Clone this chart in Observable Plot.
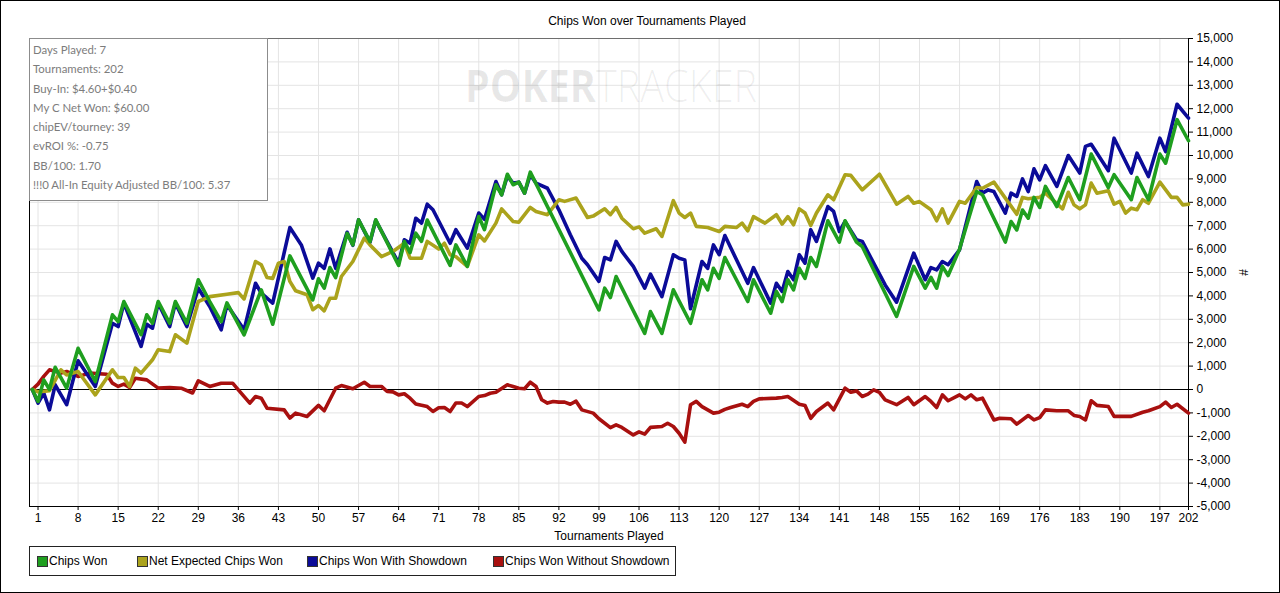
<!DOCTYPE html>
<html><head><meta charset="utf-8">
<script src="https://cdn.jsdelivr.net/npm/d3@7"></script>
<script src="https://cdn.jsdelivr.net/npm/@observablehq/plot@0.6"></script>
<style>
html,body{margin:0;padding:0;background:#fff;}
#fig{position:relative;width:1280px;height:593px;overflow:hidden;font-family:"Liberation Sans",Arial,sans-serif;background:#fff;}
#border{position:absolute;left:0;top:0;width:1280px;height:593px;box-sizing:border-box;border:1px solid #000;pointer-events:none;}
#title{position:absolute;left:647px;top:14px;transform:translateX(-50%);font-size:12px;color:#000;white-space:nowrap;line-height:14px;}
#chart{position:absolute;left:0;top:1px;}
#wm{position:absolute;left:465px;top:62px;font-family:"Open Sans",sans-serif;font-size:45px;line-height:45px;white-space:nowrap;transform-origin:left top;transform:scaleX(0.88);pointer-events:none;}
#wm .b{font-weight:700;color:rgba(0,0,0,0.09);}
#wm .l{font-weight:300;color:rgba(0,0,0,0.065);}
#info{position:absolute;left:29px;top:38px;width:239px;height:163px;box-sizing:border-box;border:1.5px solid #8c8c8c;background:#fff;padding:1px 0 0 3px;font-family:Lato,"Open Sans",sans-serif;font-size:11.4px;color:#7c7c7c;line-height:19.3px;}
#legend{position:absolute;left:29px;top:546px;width:647px;height:30px;box-sizing:border-box;border:1px solid #222;font-size:12px;color:#000;}
#legend .sw{position:absolute;top:9px;width:9px;height:9px;border:1px solid #333;}
#legend .tx{position:absolute;top:7px;line-height:14px;white-space:nowrap;}
</style></head>
<body>
<div id="fig">
  <div id="chart"></div>
  <div id="wm"><span class="b">POKER</span><span class="l">TRACKER</span></div>
  <div id="title"></div>
  <div id="info"></div>
  <div id="legend"></div>
  <div id="border"></div>
</div>
<script>
// ---------------- data (tournament, chips) ----------------
const chipsWon = [[0,0],[1,-510],[2,410],[3,0],[4,950],[6,55],[8,1760],[11,340],[14,3190],[15,2900],[16,3760],[19,2340],[20,3190],[21,2830],[22,3760],[24,2830],[25,3760],[27,2830],[29,4690],[31,3760],[33,2900],[34,3700],[37,2330],[40,4260],[42,2790],[45,5710],[49,3830],[50,4730],[51,4330],[52,5210],[53,4780],[55,6670],[56,6180],[57,7250],[59,6320],[60,7250],[64,5300],[65,6320],[66,5850],[67,6680],[68,6330],[69,7240],[73,5300],[74,6180],[76,5260],[78,7390],[79,6830],[81,8750],[82,8320],[83,9200],[84,8750],[85,8860],[86,8390],[87,9290],[99,3400],[100,4330],[101,3930],[102,4830],[107,2400],[108,3330],[110,2400],[112,4260],[115,2830],[117,4690],[118,4260],[119,5180],[120,4750],[121,5640],[125,3760],[126,4690],[129,3260],[130,4190],[131,3760],[132,4690],[133,4260],[134,5180],[135,4750],[136,5640],[137,5260],[139,7210],[141,6300],[142,7210],[144,6300],[145,6110],[151,3120],[154,5260],[156,4330],[157,4790],[158,4330],[159,5260],[160,4870],[162,6000],[165,8460],[166,8320],[170,6300],[171,7180],[172,6820],[173,7670],[174,7320],[175,8210],[176,7780],[177,8680],[179,7820],[181,9060],[183,8110],[185,10060],[188,8630],[189,9180],[192,8110],[193,9060],[195,8110],[197,10060],[198,9670],[200,11530],[202,10630]];

const netExpected = [[0,0],[1,-100],[3,-50],[5,840],[6,620],[8,770],[11,-230],[14,840],[15,510],[16,510],[17,130],[18,910],[19,700],[21,1270],[22,1700],[24,1620],[25,2340],[27,1980],[29,3760],[31,3970],[34,4070],[36,4140],[37,3870],[39,5470],[40,5330],[41,4790],[42,4750],[43,5400],[44,5470],[45,4620],[46,4220],[48,4050],[49,3410],[50,3590],[51,3360],[52,3900],[53,3900],[54,4830],[56,5470],[57,5970],[58,6470],[59,6180],[61,5680],[63,5900],[65,6250],[66,5610],[68,5610],[69,6330],[71,6000],[72,6250],[73,5760],[74,5680],[76,5260],[78,6610],[79,6350],[81,7110],[82,7720],[84,7180],[85,7150],[87,7780],[88,7610],[90,7470],[92,8110],[93,8040],[95,8180],[97,7350],[98,7410],[100,7720],[101,7470],[102,7780],[103,7320],[105,6870],[106,6950],[107,6680],[109,6870],[110,6540],[112,8070],[113,7540],[114,7350],[115,7540],[116,6970],[118,6920],[120,6750],[121,6970],[123,6920],[124,7110],[125,6780],[126,7390],[128,7110],[130,7470],[131,7070],[132,7390],[133,7040],[134,7720],[135,7540],[136,7010],[137,7540],[139,8320],[140,8110],[142,9180],[143,9150],[145,8530],[148,9200],[151,7920],[153,8250],[154,7960],[155,8030],[157,7680],[158,7210],[159,7720],[160,7110],[162,8040],[163,7960],[165,8630],[166,8600],[168,8860],[170,8180],[172,7490],[173,8210],[174,8150],[176,8210],[177,8390],[180,7720],[181,8430],[182,7890],[183,7720],[184,7890],[185,8820],[186,8390],[188,8490],[189,7920],[190,8040],[191,7540],[192,7750],[193,7680],[194,8110],[195,7960],[197,8860],[199,8210],[200,8210],[201,7890],[202,7920]];

const withShowdown = [[0,0],[1,-580],[2,-150],[3,-870],[4,200],[6,-650],[8,1230],[11,130],[14,2830],[15,2690],[16,3690],[19,1840],[20,2790],[21,2620],[22,3690],[24,2690],[25,3690],[27,2690],[29,4330],[31,3550],[33,2550],[34,3620],[37,2550],[39,4540],[40,4120],[42,3690],[45,6920],[47,6180],[49,4760],[50,5400],[51,5180],[52,6010],[53,5180],[55,6720],[56,6160],[57,7250],[59,6290],[60,7230],[64,5400],[65,6400],[66,6250],[67,7320],[68,7110],[69,7920],[70,7680],[73,6250],[74,6830],[76,6040],[78,7540],[79,7270],[81,8890],[82,8320],[83,9120],[84,8820],[85,8860],[86,8390],[87,9180],[88,8820],[90,8600],[92,7680],[94,6610],[96,5610],[97,5330],[99,4620],[100,5640],[101,5540],[102,6330],[103,5900],[105,5260],[107,4330],[108,4930],[110,3970],[112,5760],[113,5610],[114,5540],[115,3450],[117,5470],[118,5180],[119,6180],[120,5760],[121,6580],[125,4540],[126,5210],[129,3690],[130,4540],[131,4190],[132,5040],[133,4690],[134,5760],[135,5400],[136,6830],[137,6330],[139,7820],[140,7610],[141,6750],[142,7180],[144,6400],[145,6330],[149,4470],[151,3730],[154,5830],[156,4690],[157,5210],[158,5110],[159,5470],[160,5330],[162,5970],[165,8890],[166,8390],[167,8530],[168,8460],[170,7540],[171,8390],[172,8250],[173,9000],[174,8460],[175,9430],[176,8960],[177,9570],[179,8680],[181,10000],[183,9250],[184,10390],[185,10480],[188,9350],[189,10740],[192,9250],[193,10100],[195,9100],[197,10740],[198,10170],[200,12190],[202,11600]];

const withoutShowdown = [[0,0],[1,230],[2,560],[3,840],[5,700],[6,770],[8,560],[10,700],[13,650],[14,270],[15,130],[16,230],[17,85],[18,480],[20,410],[22,60],[24,85],[26,55],[28,-150],[29,370],[31,130],[33,270],[35,270],[36,-15],[38,-580],[39,-300],[40,-370],[41,-800],[44,-870],[45,-1220],[46,-1010],[48,-1150],[50,-680],[51,-910],[53,55],[54,170],[56,30],[58,310],[59,130],[61,130],[62,-85],[63,-100],[64,-230],[65,-180],[66,-370],[67,-620],[69,-730],[70,-940],[71,-780],[72,-770],[73,-940],[74,-580],[75,-580],[76,-730],[78,-300],[79,-260],[80,-160],[81,-120],[83,200],[84,130],[85,55],[86,30],[87,310],[88,130],[89,-440],[90,-580],[91,-510],[92,-540],[93,-540],[94,-630],[95,-500],[96,-870],[98,-1010],[99,-1250],[101,-1630],[102,-1510],[103,-1620],[105,-1940],[106,-1810],[107,-1910],[108,-1620],[110,-1580],[111,-1440],[112,-1580],[113,-1870],[114,-2250],[115,-650],[116,-510],[117,-730],[119,-1010],[120,-970],[121,-850],[122,-770],[124,-630],[125,-730],[126,-510],[127,-400],[130,-370],[131,-340],[132,-300],[134,-630],[135,-680],[136,-1230],[137,-940],[139,-580],[140,-870],[142,55],[143,-120],[144,-60],[145,-300],[146,-200],[147,-15],[148,-120],[149,-440],[151,-650],[153,-340],[154,-650],[156,-300],[157,-510],[158,-770],[159,-230],[160,-480],[162,-230],[163,-400],[164,-230],[165,-440],[166,-370],[168,-1300],[169,-1230],[171,-1250],[172,-1480],[174,-1110],[175,-1300],[176,-1200],[177,-870],[179,-910],[181,-910],[182,-1110],[183,-1150],[184,-1300],[185,-480],[186,-680],[188,-730],[189,-1150],[192,-1150],[194,-970],[195,-910],[197,-730],[198,-540],[199,-770],[200,-630],[202,-1010]];

const xTicks = [1,8,15,22,29,36,43,50,57,64,71,78,85,92,99,106,113,120,127,134,141,148,155,162,169,176,183,190,197,202];
const yTicks = [-5000,-4000,-3000,-2000,-1000,0,1000,2000,3000,4000,5000,6000,7000,8000,9000,10000,11000,12000,13000,14000,15000];

const seriesNames = ["Chips Won","Net Expected Chips Won","Chips Won With Showdown","Chips Won Without Showdown"];
const seriesColors = ["#1f9f1f","#aba31c","#0b0b98","#a8100f"];

const titleText = "Chips Won over Tournaments Played";
const infoLines = ["Days Played: 7","Tournaments: 202","Buy-In: $4.60+$0.40","My C Net Won: $60.00","chipEV/tourney: 39","evROI %: -0.75","BB/100: 1.70","!!!0 All-In Equity Adjusted BB/100: 5.37"];

// ---------------- chart ----------------
const xDomain = [-0.49, 202];
const lineOpts = (c) => ({x: d => d[0], y: d => d[1], stroke: c, strokeWidth: 3.6, strokeLinejoin: "round", strokeLinecap: "round"});

const chart = Plot.plot({
  width: 1280, height: 545,
  marginLeft: 29, marginRight: 92, marginTop: 37, marginBottom: 40,
  style: {fontFamily: "'Liberation Sans', Arial, sans-serif", fontSize: "12px", color: "#000", background: "transparent", overflow: "visible"},
  x: {domain: xDomain, ticks: xTicks, tickFormat: d => String(d), tickSize: 4, tickPadding: 3,
      label: "Tournaments Played", labelAnchor: "center", labelArrow: "none", labelOffset: 33},
  y: {domain: [-5000, 15000], ticks: yTicks, tickFormat: d => d.toLocaleString("en-US"), axis: "right",
      tickSize: 4, tickPadding: 4, label: "#", labelAnchor: "center", labelArrow: "none", labelOffset: 59},
  marks: [
    Plot.gridX(xTicks, {stroke: "#e4e4e4", strokeOpacity: 1}),
    Plot.gridY(yTicks, {stroke: "#e4e4e4", strokeOpacity: 1}),
    Plot.ruleY([15000], {stroke: "#6e6e6e", strokeWidth: 1.2}),
    Plot.ruleX(xDomain, {stroke: "#000"}),
    Plot.ruleY([-5000], {stroke: "#000"}),
    Plot.ruleY([0], {stroke: "#000"}),
    Plot.line(withoutShowdown, lineOpts(seriesColors[3])),
    Plot.line(withShowdown, lineOpts(seriesColors[2])),
    Plot.line(netExpected, lineOpts(seriesColors[1])),
    Plot.line(chipsWon, lineOpts(seriesColors[0]))
  ]
});
document.getElementById("chart").appendChild(chart);

document.getElementById("title").textContent = titleText;
document.getElementById("info").innerHTML = infoLines.map(s => `<div>${s}</div>`).join("");

const legendPos = [[36,48],[136,148],[306,318],[492,504]];
document.getElementById("legend").innerHTML = seriesNames.map((n, i) =>
  `<div class="sw" style="left:${legendPos[i][0]-29}px;background:${seriesColors[i]}"></div><div class="tx" style="left:${legendPos[i][1]-29}px">${n}</div>`
).join("");
</script>
</body></html>
